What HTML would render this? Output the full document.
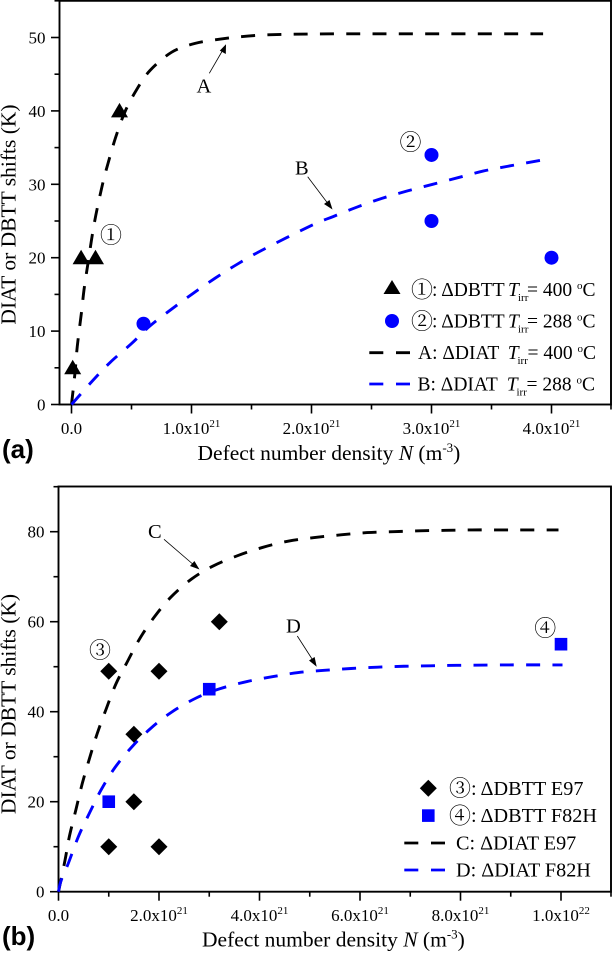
<!DOCTYPE html>
<html>
<head>
<meta charset="utf-8">
<style>
html,body{margin:0;padding:0;background:#fff;}
svg{display:block;}
text{font-family:"Liberation Serif","Noto Serif CJK SC",serif;fill:#000;}
.lg{font-size:19.5px;}
.lb{font-size:20.2px;}
.tk{font-size:17px;}
.ax{font-size:21.5px;}
.an{font-size:20.5px;}
.circ{font-size:22px;font-family:"Noto Serif CJK SC","Noto Sans CJK SC",serif;}
.sub{font-size:11px;}
.pl{font-family:"Liberation Sans",sans-serif;font-weight:bold;font-size:26px;}
</style>
</head>
<body>
<svg id="chart" xmlns="http://www.w3.org/2000/svg" width="612" height="953" viewBox="0 0 612 953">
  <rect x="0" y="0" width="612" height="953" fill="#fff"/>
  <g id="panel-a">
    <rect x="59.5" y="0.8" width="551.5" height="403.7" fill="none" stroke="#000" stroke-width="1.9"/>
    <g id="a-ticks"></g>
    <g id="a-series"></g>
    <text class="ax" transform="translate(15.5,214.5) rotate(-90)" text-anchor="middle">DIAT or DBTT shifts (K)</text>
    <text class="ax" x="197.5" y="460">Defect number density <tspan font-style="italic">N</tspan> (m<tspan font-size="13" dy="-8">-3</tspan><tspan dy="8">)</tspan></text>
    <text class="pl" x="2" y="458">(a)</text>

    <text class="an" x="196.5" y="92.7">A</text>
    <line x1="209.3" y1="73.3" x2="224" y2="48" stroke="#000" stroke-width="0.8"/>
    <polygon points="226,44.3 225.8,54 219.8,50.6" fill="#000"/>
    <text class="an" x="295" y="174.5">B</text>
    <line x1="307.7" y1="176.7" x2="329" y2="205" stroke="#000" stroke-width="0.8"/>
    <polygon points="332.5,209.5 324,204 329.5,200" fill="#000"/>
    <text class="circ" x="111" y="243" text-anchor="middle">①</text>
    <text class="circ" x="410.5" y="150" text-anchor="middle">②</text>

    <g>
      <polygon points="392,280 400.5,294 383.5,294" fill="#000"/>
      <text class="circ" x="422" y="297.5" text-anchor="middle">①</text>
      <text class="lg" x="432" y="296">: ΔDBTT <tspan x="508" font-style="italic">T</tspan><tspan class="sub" x="518" dy="5">irr</tspan><tspan x="527" dy="-5">= 400 </tspan><tspan font-size="11" dy="-7">o</tspan><tspan dy="7">C</tspan></text>
      <circle cx="392" cy="321" r="7" fill="#0000ff"/>
      <text class="circ" x="422" y="329" text-anchor="middle">②</text>
      <text class="lg" x="432" y="327.3">: ΔDBTT <tspan x="508" font-style="italic">T</tspan><tspan class="sub" x="518" dy="5">irr</tspan><tspan x="527" dy="-5">= 288 </tspan><tspan font-size="11" dy="-7">o</tspan><tspan dy="7">C</tspan></text>
      <line x1="369.3" y1="352.7" x2="410" y2="352.7" stroke="#000" stroke-width="2.8" stroke-dasharray="14 12.7"/>
      <text class="lg" x="418" y="359">A: ΔDIAT <tspan x="507.7" font-style="italic">T</tspan><tspan class="sub" x="517.5" dy="5">irr</tspan><tspan x="527.5" dy="-5">= 400 </tspan><tspan font-size="11" dy="-7">o</tspan><tspan dy="7">C</tspan></text>
      <line x1="369.3" y1="384" x2="410" y2="384" stroke="#0000ff" stroke-width="2.8" stroke-dasharray="14 12.7"/>
      <text class="lg" x="417.5" y="390.7">B: ΔDIAT <tspan x="506.7" font-style="italic">T</tspan><tspan class="sub" x="516.5" dy="5">irr</tspan><tspan x="526.5" dy="-5">= 288 </tspan><tspan font-size="11" dy="-7">o</tspan><tspan dy="7">C</tspan></text>
    </g>
  </g>

  <g id="panel-b">
    <rect x="58.5" y="486.5" width="552.5" height="405.2" fill="none" stroke="#000" stroke-width="1.9"/>
    <g id="b-ticks"></g>
    <g id="b-series"></g>
    <text class="ax" transform="translate(15.5,704) rotate(-90)" text-anchor="middle">DIAT or DBTT shifts (K)</text>
    <text class="ax" x="202" y="946.7">Defect number density <tspan font-style="italic">N</tspan> (m<tspan font-size="13" dy="-8">-3</tspan><tspan dy="8">)</tspan></text>
    <text class="pl" x="2" y="945">(b)</text>

    <text class="an" x="148" y="538">C</text>
    <line x1="164" y1="539.3" x2="195" y2="566" stroke="#000" stroke-width="0.8"/>
    <polygon points="199.5,569.5 190,566 194.4,561" fill="#000"/>
    <text class="an" x="286" y="632.7">D</text>
    <line x1="297.3" y1="636" x2="314" y2="662" stroke="#000" stroke-width="0.8"/>
    <polygon points="316.7,666.7 309,660.5 314.6,657" fill="#000"/>
    <text class="circ" x="100" y="658" text-anchor="middle">③</text>
    <text class="circ" x="545.3" y="636" text-anchor="middle">④</text>

    <g>
      <polygon points="428.3,779.8 436.8,788.3 428.3,796.8 419.8,788.3" fill="#000"/>
      <text class="circ" x="460" y="796" text-anchor="middle">③</text>
      <text class="lb" x="471" y="795">: ΔDBTT E97</text>
      <rect x="422" y="809.3" width="12.6" height="12.6" fill="#0000ff"/>
      <text class="circ" x="460" y="823.5" text-anchor="middle">④</text>
      <text class="lb" x="471" y="822">: ΔDBTT F82H</text>
      <line x1="404.3" y1="843" x2="445" y2="843" stroke="#000" stroke-width="2.8" stroke-dasharray="14 12.7"/>
      <text class="lb" x="456" y="849.5">C: ΔDIAT E97</text>
      <line x1="404.3" y1="870" x2="445" y2="870" stroke="#0000ff" stroke-width="2.8" stroke-dasharray="14 12.7"/>
      <text class="lb" x="456" y="876.5">D: ΔDIAT F82H</text>
    </g>
  </g>
</svg>
<script>
// Panel (a): N in units of 1e21 m^-3, values in K
const aXTickValues = [0, 1, 2, 3, 4];
const aXTickLabels = ['0.0', '1.0x10', '2.0x10', '3.0x10', '4.0x10'];
const aXTickExps = ['', '21', '21', '21', '21'];
const aXMinorValues = [0.5, 1.5, 2.5, 3.5, 4.5];
const aYTickValues = [0, 10, 20, 30, 40, 50];
const aYMinorValues = [5, 15, 25, 35, 45, 55];
const curveAN = [0, 0.029, 0.048, 0.085, 0.104, 0.135, 0.19, 0.257, 0.307, 0.368, 0.446, 0.543, 0.654, 0.835, 1.03, 1.25, 1.47, 1.71, 2.2, 3.0, 3.93];
const curveAV = [0, 4.3, 7.9, 12.8, 15.6, 19, 24.7, 29.9, 33, 36.4, 39.9, 42.9, 45.5, 48, 49.2, 49.8, 50.2, 50.4, 50.5, 50.5, 50.5];
const curveBN = [0, 0.168, 0.32, 0.5, 0.654, 0.835, 1.01, 1.196, 1.38, 1.585, 2.0, 2.18, 2.38, 2.59, 2.8, 3.01, 3.22, 3.43, 3.65, 3.92];
const curveBV = [0, 3.1, 5.7, 8.3, 10.7, 13, 15.1, 17.2, 19.1, 21, 24.4, 25.6, 26.9, 28.1, 29.1, 30, 30.9, 31.8, 32.5, 33.3];
const triangleN = [0.01, 0.08, 0.2, 0.4];
const triangleV = [5, 20, 20, 40];
const circleN = [0.6, 3, 3, 4];
const circleV = [11, 34, 25, 20];

// Panel (b)
const bXTickValues = [0, 2, 4, 6, 8, 10];
const bXTickLabels = ['0.0', '2.0x10', '4.0x10', '6.0x10', '8.0x10', '1.0x10'];
const bXTickExps = ['', '21', '21', '21', '21', '22'];
const bXMinorValues = [1, 3, 5, 7, 9, 11];
const bYTickValues = [0, 20, 40, 60, 80];
const bYMinorValues = [10, 30, 50, 70, 90];
const curveCN = [0, 0.13, 0.215, 0.348, 0.474, 0.627, 0.772, 0.945, 1.14, 1.37, 1.62, 1.91, 2.24, 2.65, 3.08, 3.57, 4.06, 4.57, 5.09, 5.62, 6.14, 6.66, 7.18, 7.71, 8.23, 8.76, 9.28, 9.95];
const curveCV = [0, 7, 12.2, 18.3, 24.1, 30, 35.2, 40.5, 46.1, 51.1, 56.3, 61.1, 65.5, 69.5, 72.4, 74.7, 76.5, 77.9, 78.7, 79.3, 79.8, 80, 80.2, 80.3, 80.4, 80.4, 80.4, 80.4];
const curveDN = [0, 0.05, 0.195, 0.394, 0.613, 0.846, 1.124, 1.47, 1.835, 2.25, 2.75, 3.21, 3.75, 4.27, 4.77, 5.29, 5.82, 6.35, 6.87, 7.4, 7.92, 8.97, 10.03];
const curveDV = [0, 2.4, 6.3, 12.2, 17.4, 22.6, 27.6, 32.3, 36.3, 39.9, 43.1, 45.1, 46.7, 47.8, 48.7, 49.2, 49.6, 49.9, 50.1, 50.2, 50.3, 50.4, 50.4];
const diamondN = [1, 2, 1.5, 1.5, 1, 2, 3.2];
const diamondV = [49, 49, 35, 20, 10, 10, 60];
const squareN = [1, 3, 10];
const squareV = [20, 45, 55];

const NS = 'http://www.w3.org/2000/svg';
function xA(v) { return 71.5 + v * 120; }
function yA(v) { return 404.5 - v * 7.34; }
function xB(v) { return 58.5 + v * 50.25; }
function yB(v) { return 891.7 - v * 4.5; }

function make(tag, parent, attrs) {
  const el = document.createElementNS(NS, tag);
  for (const k in attrs) el.setAttribute(k, attrs[k]);
  parent.appendChild(el);
  return el;
}

function drawTicks(group, xf, yf, yBase, xLeft, xVals, xLabels, xExps, xMinor, yVals, yMinor) {
  xVals.forEach(function (v, i) {
    const t = make('line', group, { x1: xf(v), x2: xf(v), y1: yBase, y2: yBase + 9, stroke: '#000', 'stroke-width': 1.6 });
    
    
    const lab = make('text', group, { x: xf(v), y: yBase + 29.5, 'text-anchor': 'middle', class: 'tk' });
    
    
    lab.textContent = xLabels[i];
    if (xExps[i]) {
      const s = make('tspan', lab, { 'font-size': 11, dy: -7 });
      s.textContent = xExps[i];
    }
  });
  xMinor.forEach(function (v) {
    const t = make('line', group, { x1: Math.min(xf(v), 611), x2: Math.min(xf(v), 611), y1: yBase, y2: yBase + 5, stroke: '#000', 'stroke-width': 1.6 });
    
    
  });
  yVals.forEach(function (v) {
    const t = make('line', group, { x1: xLeft - 8.5, x2: xLeft, y1: yf(v), y2: yf(v), stroke: '#000', 'stroke-width': 1.6 });
    
    
    const lab = make('text', group, { x: xLeft - 14, y: yf(v) + 6, 'text-anchor': 'end', class: 'tk' });
    
    
    lab.textContent = String(v);
  });
  yMinor.forEach(function (v) {
    const t = make('line', group, { x1: xLeft - 5, x2: xLeft, y1: yf(v), y2: yf(v), stroke: '#000', 'stroke-width': 1.6 });
    
    
  });
}

function drawCurve(group, xf, yf, ns, vs, color, name) {
  const xs = ns.map(xf);
  const ys = vs.map(yf);
  let d = 'M' + xs[0].toFixed(2) + ' ' + ys[0].toFixed(2);
  for (let i = 0; i < xs.length - 1; i++) {
    const a = Math.max(i - 1, 0);
    const b = Math.min(i + 2, xs.length - 1);
    const c1x = xs[i] + (xs[i + 1] - xs[a]) / 6;
    const c1y = ys[i] + (ys[i + 1] - ys[a]) / 6;
    const c2x = xs[i + 1] - (xs[b] - xs[i]) / 6;
    const c2y = ys[i + 1] - (ys[b] - ys[i]) / 6;
    d += 'C' + c1x.toFixed(2) + ' ' + c1y.toFixed(2) + ' ' + c2x.toFixed(2) + ' ' + c2y.toFixed(2) + ' ' + xs[i + 1].toFixed(2) + ' ' + ys[i + 1].toFixed(2);
  }
  const p = make('path', group, { d: d, fill: 'none', stroke: color, 'stroke-width': 2.9, 'stroke-dasharray': '14 12.3' });
  
  
}

function drawTriangle(group, cx, cy) {
  const m = make('polygon', group, { points: (cx) + ',' + (cy - 8) + ' ' + (cx + 8.5) + ',' + (cy + 6.5) + ' ' + (cx - 8.5) + ',' + (cy + 6.5), fill: '#000' });
  
  
}
function drawCircle(group, cx, cy) {
  const m = make('circle', group, { cx: cx, cy: cy, r: 7, fill: '#0000ff' });
  
  
}
function drawDiamond(group, cx, cy) {
  const m = make('polygon', group, { points: cx + ',' + (cy - 8.5) + ' ' + (cx + 8.5) + ',' + cy + ' ' + cx + ',' + (cy + 8.5) + ' ' + (cx - 8.5) + ',' + cy, fill: '#000' });
  
  
}
function drawSquare(group, cx, cy) {
  const m = make('rect', group, { x: cx - 6.3, y: cy - 6.3, width: 12.6, height: 12.6, fill: '#0000ff' });
  
  
}

const aTicks = document.getElementById('a-ticks');
const aSeries = document.getElementById('a-series');
const bTicks = document.getElementById('b-ticks');
const bSeries = document.getElementById('b-series');

drawTicks(aTicks, xA, yA, 404.5, 59.5, aXTickValues, aXTickLabels, aXTickExps, aXMinorValues, aYTickValues, aYMinorValues);
drawTicks(bTicks, xB, yB, 891.7, 58.5, bXTickValues, bXTickLabels, bXTickExps, bXMinorValues, bYTickValues, bYMinorValues);

drawCurve(aSeries, xA, yA, curveAN, curveAV, '#000', 'curve-a');
drawCurve(aSeries, xA, yA, curveBN, curveBV, '#0000ff', 'curve-b');
triangleN.forEach(function (n, i) { drawTriangle(aSeries, xA(n), yA(triangleV[i])); });
circleN.forEach(function (n, i) { drawCircle(aSeries, xA(n), yA(circleV[i])); });

drawCurve(bSeries, xB, yB, curveCN, curveCV, '#000', 'curve-c');
drawCurve(bSeries, xB, yB, curveDN, curveDV, '#0000ff', 'curve-d');
diamondN.forEach(function (n, i) { drawDiamond(bSeries, xB(n), yB(diamondV[i])); });
squareN.forEach(function (n, i) { drawSquare(bSeries, xB(n), yB(squareV[i])); });
</script>
</body>
</html>
